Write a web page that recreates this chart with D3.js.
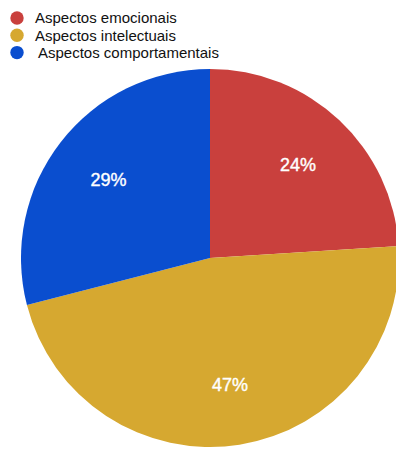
<!DOCTYPE html>
<html>
<head>
<meta charset="utf-8">
<script src="https://cdn.jsdelivr.net/npm/d3@7"></script>
<style>
  body { margin: 0; background: #fff; }
  svg { display: block; font-family: 'Liberation Sans', Arial, sans-serif; }
</style>
</head>
<body>
<svg id="chart" width="396" height="450"></svg>
<script>
'use strict';

// data
const categories = ['Aspectos emocionais', 'Aspectos intelectuais', 'Aspectos comportamentais'];
const values = [24, 47, 29];
const colors = ['#C9403D', '#D6A830', '#0A4ECF'];

const radius = 189;
const cx = 210;
const cy = 258;

const svg = d3.select('#chart');

const color = d3.scaleOrdinal().domain(categories).range(colors);

const pie = d3.pie().sort(null).value((d) => d.value);
const data = categories.map((c, i) => ({ key: c, value: values[i] }));
const arcs = pie(data);

const arc = d3.arc().innerRadius(0).outerRadius(radius);
const labelArc = d3.arc().innerRadius(radius * 0.68).outerRadius(radius * 0.68);

const g = svg.append('g').attr('transform', 'translate(' + cx + ',' + cy + ')');

g.selectAll('.slice')
  .data(arcs)
  .enter()
  .append('path')
  .attr('class', 'slice')
  .attr('d', arc)
  .attr('fill', (d) => color(d.data.key));

const total = d3.sum(values);
g.selectAll('.label')
  .data(arcs)
  .enter()
  .append('text')
  .attr('class', 'label')
  .attr('transform', (d) => 'translate(' + labelArc.centroid(d) + ')')
  .attr('text-anchor', 'middle')
  .attr('dy', '0.36em')
  .attr('fill', '#fff')
  .attr('stroke', '#fff')
  .attr('stroke-width', 0.4)
  .style('font-size', '18px')
  .text((d) => Math.round((d.value / total) * 100) + '%');

// legend
const legend = svg
  .selectAll('.legend')
  .data(categories)
  .enter()
  .append('g')
  .attr('class', 'legend')
  .attr('transform', (d, i) => 'translate(17,' + (18 + i * 17.3) + ')');

legend
  .append('circle')
  .attr('r', 6.7)
  .attr('fill', (d) => color(d));

legend
  .append('text')
  .attr('x', (d, i) => (i === 2 ? 21 : 18))
  .attr('dy', '0.35em')
  .attr('fill', '#111')
  .style('font-size', '15px')
  .text((d) => d);
</script>
</body>
</html>
